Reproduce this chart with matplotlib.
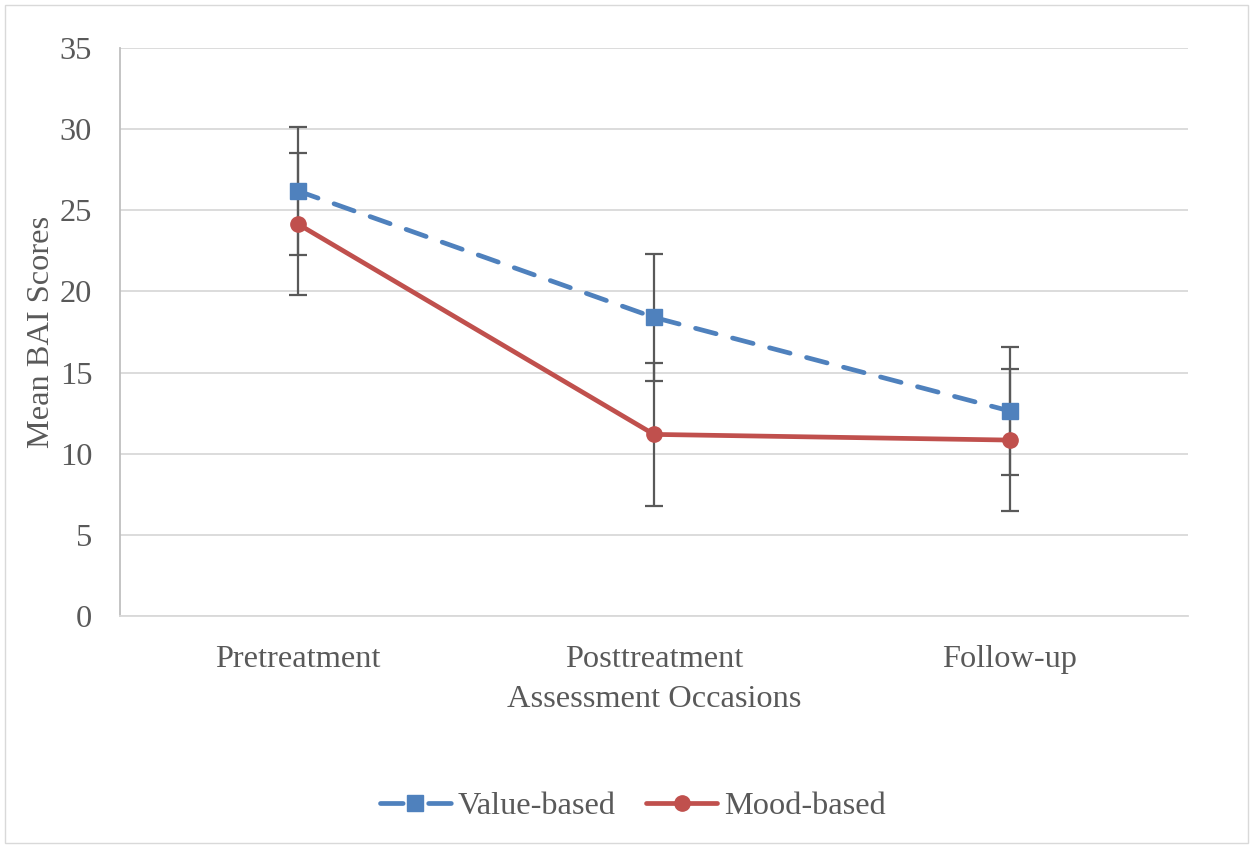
import matplotlib
matplotlib.use("Agg")
import matplotlib.pyplot as plt
from matplotlib.patches import Rectangle
from matplotlib.lines import Line2D

# Mean BAI scores by assessment occasion
occasions = ["Pretreatment", "Posttreatment", "Follow-up"]
value_based = [26.19, 18.40, 12.63]
value_err = [3.94, 3.93, 3.95]
mood_based = [24.15, 11.19, 10.84]
mood_err = [4.38, 4.39, 4.36]
series_names = ["Value-based", "Mood-based"]

plt.rcParams["font.family"] = ["Liberation Serif", "DejaVu Serif"]

fig = plt.figure(figsize=(12.53, 8.46), dpi=100)
ax = fig.add_axes([120 / 1253, 1 - 616 / 846, 1068 / 1253, 568 / 846])

# outer chart border
fig.patches.append(Rectangle((0.004, 0.004), 0.992, 0.990, transform=fig.transFigure,
                             fill=False, edgecolor="#d9d9d9", linewidth=1.0))

x = list(range(len(occasions)))
blue = "#4f81bd"
red = "#c0504d"
errc = "#595959"
fs = 23.3
lw = 3.4
ms = 11

ax.errorbar(x, value_based, yerr=value_err, fmt="none", ecolor=errc,
            elinewidth=1.6, capsize=6.5, capthick=1.6, zorder=3)
ax.errorbar(x, mood_based, yerr=mood_err, fmt="none", ecolor=errc,
            elinewidth=1.6, capsize=6.5, capthick=1.6, zorder=3)

ax.plot(x, value_based, color=blue, linewidth=lw, linestyle=(0, (4.5, 3.6)),
        dash_capstyle="round", marker="s", markersize=ms, zorder=4)
ax.plot(x, mood_based, color=red, linewidth=lw, solid_capstyle="round",
        marker="o", markersize=ms, zorder=4)

ax.set_xlim(-0.5, 2.5)
ax.set_ylim(0, 35)
ax.set_yticks(range(0, 36, 5))
ax.set_xticks(x)
ax.set_xticklabels(occasions)
ax.grid(axis="y", color="#d9d9d9", linewidth=1.3, zorder=0)
ax.set_axisbelow(True)

for side in ("top", "right"):
    ax.spines[side].set_visible(False)
ax.spines["left"].set_color("#bfbfbf")
ax.spines["bottom"].set_color("#d9d9d9")
ax.spines["left"].set_linewidth(1.3)
ax.spines["bottom"].set_linewidth(1.3)

ax.tick_params(axis="both", length=0, labelsize=fs, labelcolor="#595959")
ax.tick_params(axis="y", pad=20)
ax.tick_params(axis="x", pad=21)

ax.set_xlabel("Assessment Occasions", fontsize=fs, color="#595959", labelpad=8)
ax.set_ylabel("Mean BAI Scores", fontsize=fs, color="#595959", labelpad=3)

# legend keys: dash - marker - dash
handles = [
    Line2D([], [], color=blue, linewidth=lw, linestyle=(0, (4.8, 5.4)),
           dash_capstyle="round", marker="s", markersize=ms),
    Line2D([], [], color=red, linewidth=lw, solid_capstyle="round",
           marker="o", markersize=ms),
]
leg = fig.legend(handles, series_names, loc="center",
                 bbox_to_anchor=(0.505, 1 - 806 / 846), ncol=2,
                 frameon=False, fontsize=fs, handlelength=2.2, columnspacing=0.95,
                 handletextpad=0.2)
for t in leg.get_texts():
    t.set_color("#595959")

fig.savefig("out.png", dpi=100)
